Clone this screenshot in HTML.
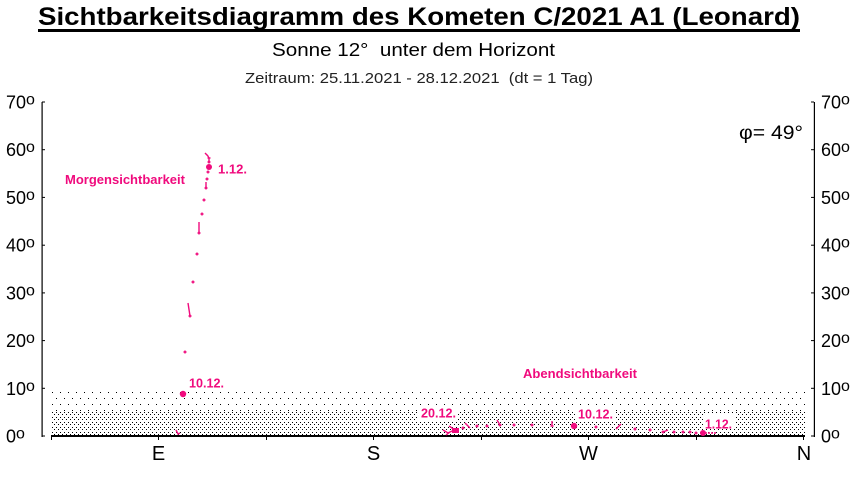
<!DOCTYPE html>
<html><head><meta charset="utf-8"><style>
html,body{margin:0;padding:0;background:#fff;}
svg{display:block;}
text{font-family:"Liberation Sans",Arial,sans-serif;white-space:pre;}
</style></head><body>
<svg width="859" height="477" viewBox="0 0 859 477" xmlns="http://www.w3.org/2000/svg" xml:space="preserve">
<defs>
<pattern id="sp" x="0" y="2" width="8" height="12" patternUnits="userSpaceOnUse">
<rect x="0" y="0" width="1" height="1" fill="#000"/><rect x="4" y="6" width="1" height="1" fill="#000"/>
</pattern>
<pattern id="dp" x="0" y="2" width="4" height="5" patternUnits="userSpaceOnUse">
<rect x="0" y="0" width="1" height="1" fill="#000"/><rect x="2" y="2" width="1" height="1" fill="#000"/>
</pattern>
</defs>
<rect width="859" height="477" fill="#fff"/>

<text x="38" y="25" font-size="25" font-weight="bold" textLength="762" lengthAdjust="spacingAndGlyphs">Sichtbarkeitsdiagramm des Kometen C/2021 A1 (Leonard)</text>
<rect x="38" y="29" width="762" height="3" fill="#000"/>
<text x="272" y="56" font-size="18" textLength="283" lengthAdjust="spacingAndGlyphs">Sonne 12°&#160; unter dem Horizont</text>
<text x="245" y="83" font-size="15" fill="#222" textLength="348" lengthAdjust="spacingAndGlyphs">Zeitraum: 25.11.2021 - 28.12.2021&#160; (dt = 1 Tag)</text>

<rect x="52" y="392" width="753" height="20" fill="url(#sp)"/>
<rect x="52" y="412" width="753" height="23" fill="url(#dp)"/>

<g fill="#000">
<rect x="41.5" y="102" width="1.2" height="335"/>
<rect x="813.8" y="102" width="1.2" height="335"/>
<rect x="51" y="435" width="754" height="2"/>
<rect x="42" y="101.5" width="3" height="1"/>
<rect x="42" y="149.2" width="3" height="1"/>
<rect x="42" y="196.9" width="3" height="1"/>
<rect x="42" y="244.7" width="3" height="1"/>
<rect x="42" y="292.4" width="3" height="1"/>
<rect x="42" y="340.1" width="3" height="1"/>
<rect x="42" y="387.8" width="3" height="1"/>
<rect x="42" y="435.5" width="3" height="1"/>
<rect x="811" y="101.5" width="3" height="1"/>
<rect x="811" y="149.2" width="3" height="1"/>
<rect x="811" y="196.9" width="3" height="1"/>
<rect x="811" y="244.7" width="3" height="1"/>
<rect x="811" y="292.4" width="3" height="1"/>
<rect x="811" y="340.1" width="3" height="1"/>
<rect x="811" y="387.8" width="3" height="1"/>
<rect x="811" y="435.5" width="3" height="1"/>
<rect x="51" y="437" width="1" height="3"/>
<rect x="158" y="437" width="1" height="3"/>
<rect x="266" y="437" width="1" height="3"/>
<rect x="373" y="437" width="1" height="3"/>
<rect x="481" y="437" width="1" height="3"/>
<rect x="588" y="437" width="1" height="3"/>
<rect x="696" y="437" width="1" height="3"/>
<rect x="803" y="437" width="1" height="3"/>
</g>

<g font-size="18" fill="#000">
<text x="6" y="108.5">70<tspan font-size="16" dy="-4">o</tspan></text>
<text x="6" y="156.2">60<tspan font-size="16" dy="-4">o</tspan></text>
<text x="6" y="203.9">50<tspan font-size="16" dy="-4">o</tspan></text>
<text x="6" y="251.7">40<tspan font-size="16" dy="-4">o</tspan></text>
<text x="6" y="299.4">30<tspan font-size="16" dy="-4">o</tspan></text>
<text x="6" y="347.1">20<tspan font-size="16" dy="-4">o</tspan></text>
<text x="6" y="394.8">10<tspan font-size="16" dy="-4">o</tspan></text>
<text x="6" y="442.5">0<tspan font-size="16" dy="-4">o</tspan></text>
<text x="821" y="108.5">70<tspan font-size="16" dy="-4">o</tspan></text>
<text x="821" y="156.2">60<tspan font-size="16" dy="-4">o</tspan></text>
<text x="821" y="203.9">50<tspan font-size="16" dy="-4">o</tspan></text>
<text x="821" y="251.7">40<tspan font-size="16" dy="-4">o</tspan></text>
<text x="821" y="299.4">30<tspan font-size="16" dy="-4">o</tspan></text>
<text x="821" y="347.1">20<tspan font-size="16" dy="-4">o</tspan></text>
<text x="821" y="394.8">10<tspan font-size="16" dy="-4">o</tspan></text>
<text x="821" y="442.5">0<tspan font-size="16" dy="-4">o</tspan></text>
</g>

<g font-size="20" text-anchor="middle" fill="#000">
<text x="158.5" y="460">E</text>
<text x="373.5" y="460">S</text>
<text x="588.5" y="460">W</text>
<text x="804" y="460">N</text>
</g>

<text x="739" y="139" font-size="19" textLength="64" lengthAdjust="spacingAndGlyphs">φ= 49°</text>

<g stroke="#f00a7d" stroke-width="1.4" fill="none">
<path d="M176 430 L178 434 L180 433"/>
<path d="M188 303 L190 316"/>
<path d="M199 222 L199 233"/>
<path d="M206 182 L206 189"/>
<path d="M209 163 L209 158 L207.7 155.7 L205 153"/>
<path d="M183.5 352 h3 M185 350.5 v3"/>
<path d="M188.5 316 h3 M190 314.5 v3"/>
<path d="M191.5 282 h3 M193 280.5 v3"/>
<path d="M195.5 254 h3 M197 252.5 v3"/>
<path d="M197.5 233 h3 M199 231.5 v3"/>
<path d="M200.5 214 h3 M202 212.5 v3"/>
<path d="M202.5 200 h3 M204 198.5 v3"/>
<path d="M204.5 188 h3 M206 186.5 v3"/>
<path d="M205.5 179 h3 M207 177.5 v3"/>
<path d="M206.5 172 h3 M208 170.5 v3"/>
<path d="M207.5 162 h3 M209 160.5 v3"/>
<path d="M207.5 158 h3"/>
</g>
<g fill="#f00a7d">
<circle cx="183" cy="394" r="3.2"/>
<circle cx="209" cy="167" r="3"/>
</g>

<g stroke="#f00a7d" stroke-width="1.4" fill="none">
<path d="M443 430 L448 433 L452 431"/>
<path d="M446 435 L450 432"/>
<path d="M449 426 L455 430"/>
<path d="M461.5 428 h3 M463 426.5 v3"/>
<path d="M465 423 L470 428"/>
<path d="M475.5 426 h3 M477 424.5 v3"/>
<path d="M485.5 426 h3 M487 424.5 v3"/>
<path d="M497 420 L500 425"/>
<path d="M498.5 425 h3 M500 423.5 v3"/>
<path d="M512.5 425 h3 M514 423.5 v3"/>
<path d="M530.5 425 h3 M532 423.5 v3"/>
<path d="M552 421 L552 426 M550.5 426 h3"/>
<path d="M594.5 427 h3 M596 425.5 v3"/>
<path d="M616 429 L621 424"/>
<path d="M633.5 429 h3 M635 427.5 v3"/>
<path d="M648.5 430 h3 M650 428.5 v3"/>
<path d="M663 432 L668 430"/>
<path d="M661.5 432 h3 M663 430.5 v3"/>
<path d="M672.5 432 h3 M674 430.5 v3"/>
<path d="M681.5 432 h3 M683 430.5 v3"/>
<path d="M688.5 432 h3 M690 430.5 v3"/>
<path d="M694.5 433 h3 M696 431.5 v3"/>
<path d="M700 433 h7 M708 433 h2 M711 433 h2 M714 433 h2"/>
</g>
<g fill="#f00a7d">
<rect x="452" y="428" width="7" height="5"/>
<circle cx="574" cy="426" r="3.2"/>
<circle cx="703" cy="433" r="3"/>
</g>

<g fill="#fff">
<rect x="418" y="405" width="40" height="16"/>
<rect x="576" y="406" width="40" height="15"/>
<rect x="703" y="414" width="32" height="15"/>
</g>

<g font-size="13" font-weight="bold" fill="#f00a7d">
<text x="65" y="184" textLength="120" lengthAdjust="spacingAndGlyphs">Morgensichtbarkeit</text>
<text x="523" y="378" textLength="114" lengthAdjust="spacingAndGlyphs">Abendsichtbarkeit</text>
<text x="218" y="173.5" textLength="29" lengthAdjust="spacingAndGlyphs">1.12.</text>
<text x="189" y="387.5" textLength="35" lengthAdjust="spacingAndGlyphs">10.12.</text>
<text x="421" y="417.5" textLength="35" lengthAdjust="spacingAndGlyphs">20.12.</text>
<text x="578" y="418.5" textLength="35" lengthAdjust="spacingAndGlyphs">10.12.</text>
<text x="705" y="428.5" textLength="27" lengthAdjust="spacingAndGlyphs">1.12.</text>
</g>
</svg>
</body></html>
